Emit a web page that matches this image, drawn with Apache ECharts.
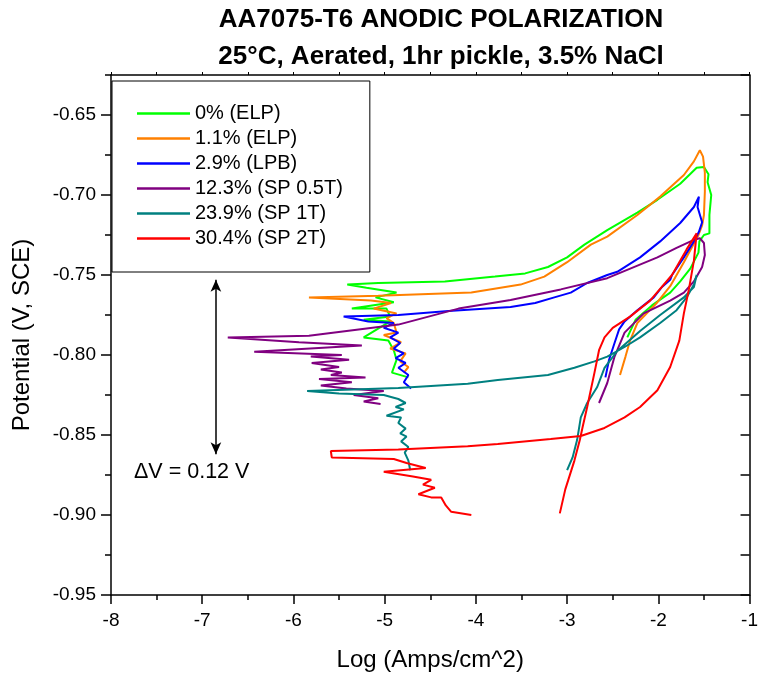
<!DOCTYPE html>
<html><head><meta charset="utf-8">
<script src="https://cdn.jsdelivr.net/npm/echarts@6/dist/echarts.min.js"></script>
<style>html,body{margin:0;padding:0;background:#fff}#c{width:761px;height:677px}</style>
</head><body><div id="c"></div>
<script>
const FONT = '"Liberation Sans", Arial, sans-serif';
const titleLines = ['AA7075-T6 ANODIC POLARIZATION', '25°C, Aerated, 1hr pickle, 3.5% NaCl'];
const xName = 'Log (Amps/cm^2)';
const yName = 'Potential (V, SCE)';
const xTicks = [-8, -7, -6, -5, -4, -3, -2, -1];
const yTicks = [-0.95, -0.90, -0.85, -0.80, -0.75, -0.70, -0.65];
const yMinorTicks = [-0.925, -0.875, -0.825, -0.775, -0.725, -0.675, -0.625];
const seriesNames = ['0% (ELP)', '1.1% (ELP)', '2.9% (LPB)', '12.3% (SP 0.5T)', '23.9% (SP 1T)', '30.4% (SP 2T)'];
const seriesColors = ['#00FF00', '#FF8000', '#0000FF', '#800080', '#008080', '#FF0000'];
const deltaLabel = '\u0394V = 0.12 V';
const arrowX = -6.85, arrowTop = -0.753, arrowBottom = -0.862;

const green = [
[-4.74,-0.814],[-4.92,-0.811],[-4.87,-0.803],[-4.90,-0.797],[-4.96,-0.791],[-5.23,-0.789],[-4.94,-0.779],[-5.23,-0.778],[-4.94,-0.776],[-4.98,-0.771],[-5.36,-0.771],[-4.90,-0.767],[-5.10,-0.764],[-4.87,-0.761],[-5.20,-0.758],[-5.41,-0.756],
[-5.07,-0.755],[-4.34,-0.754],[-3.79,-0.751],[-3.46,-0.749],[-3.21,-0.745],[-3.00,-0.739],[-2.81,-0.731],[-2.56,-0.722],[-2.23,-0.711],[-2.01,-0.703],[-1.76,-0.693],[-1.58,-0.683],[-1.50,-0.6825],[-1.45,-0.687],[-1.46,-0.692],[-1.42,-0.700],[-1.44,-0.7125],[-1.44,-0.724],[-1.50,-0.725],[-1.55,-0.729],[-1.56,-0.736],[-1.65,-0.746],[-1.76,-0.754],[-1.87,-0.761],[-2.07,-0.769],[-2.25,-0.778],[-2.34,-0.789]
];
const orange = [
[-4.79,-0.811],[-4.74,-0.8075],[-4.83,-0.804],[-4.77,-0.799],[-4.94,-0.796],[-4.82,-0.792],[-5.01,-0.7875],[-4.87,-0.786],[-4.90,-0.780],[-4.98,-0.777],[-4.87,-0.774],[-5.12,-0.771],[-4.93,-0.7675],[-5.15,-0.766],[-5.83,-0.764],
[-5.07,-0.763],[-4.05,-0.761],[-3.51,-0.756],[-3.25,-0.751],[-3.00,-0.742],[-2.74,-0.731],[-2.56,-0.726],[-2.23,-0.7125],[-1.98,-0.701],[-1.72,-0.6875],[-1.61,-0.679],[-1.545,-0.672],[-1.51,-0.676],[-1.49,-0.686],[-1.49,-0.698],[-1.50,-0.7125],[-1.52,-0.719],[-1.56,-0.725],[-1.72,-0.742],[-1.87,-0.757],[-2.01,-0.767],[-2.23,-0.780],[-2.31,-0.791],[-2.36,-0.801],[-2.42,-0.8125]
];
const blue = [
[-4.71,-0.821],[-4.79,-0.817],[-4.74,-0.8125],[-4.85,-0.808],[-4.77,-0.805],[-4.88,-0.802],[-4.79,-0.799],[-4.90,-0.796],[-4.83,-0.7925],[-4.94,-0.789],[-4.85,-0.786],[-5.01,-0.783],[-4.90,-0.780],[-5.18,-0.779],[-5.45,-0.776],
[-4.85,-0.775],[-4.30,-0.7725],[-3.62,-0.770],[-3.35,-0.7675],[-3.14,-0.764],[-2.96,-0.761],[-2.78,-0.755],[-2.56,-0.750],[-2.45,-0.748],[-2.20,-0.739],[-1.98,-0.729],[-1.76,-0.7175],[-1.61,-0.7075],[-1.555,-0.701],[-1.57,-0.7075],[-1.52,-0.717],[-1.555,-0.723],[-1.61,-0.729],[-1.72,-0.739],[-1.85,-0.750],[-1.87,-0.753],[-1.96,-0.7575],[-2.05,-0.764],[-2.23,-0.772],[-2.37,-0.779],[-2.43,-0.784],[-2.48,-0.7925],[-2.54,-0.803],[-2.58,-0.814]
];
const purple = [
[-5.045,-0.8306],[-5.23,-0.829],[-5.07,-0.827],[-5.34,-0.825],[-5.01,-0.8225],[-5.42,-0.821],[-5.70,-0.819],[-5.36,-0.817],[-5.72,-0.815],[-5.21,-0.814],[-5.59,-0.8125],[-5.47,-0.811],[-5.70,-0.809],[-5.50,-0.8075],[-5.80,-0.805],[-5.39,-0.803],[-5.81,-0.801],[-5.47,-0.800],[-6.43,-0.798],[-5.25,-0.794],[-5.94,-0.792],[-6.72,-0.789],[-5.83,-0.788],[-4.85,-0.781],[-4.19,-0.771],
[-3.62,-0.7656],[-3.07,-0.759],[-2.56,-0.752],[-2.01,-0.739],[-1.80,-0.733],[-1.61,-0.728],[-1.545,-0.727],[-1.50,-0.730],[-1.49,-0.7375],[-1.52,-0.745],[-1.61,-0.754],[-1.72,-0.761],[-1.87,-0.766],[-2.16,-0.774],[-2.37,-0.786],[-2.48,-0.801],[-2.56,-0.8175],[-2.65,-0.830]
];
const teal = [
[-4.72,-0.872],[-4.74,-0.866],[-4.78,-0.861],[-4.74,-0.8575],[-4.82,-0.854],[-4.76,-0.851],[-4.83,-0.849],[-4.77,-0.846],[-4.85,-0.8425],[-4.82,-0.839],[-4.98,-0.838],[-4.79,-0.834],[-4.88,-0.8325],[-4.77,-0.830],[-4.85,-0.8275],[-5.01,-0.825],[-5.50,-0.824],[-5.85,-0.8225],
[-4.85,-0.8206],[-4.09,-0.818],[-3.76,-0.8156],[-3.21,-0.8125],[-2.92,-0.808],[-2.70,-0.804],[-2.56,-0.801],[-2.37,-0.795],[-2.20,-0.789],[-1.98,-0.780],[-1.80,-0.772],[-1.69,-0.764],[-1.61,-0.756],[-1.58,-0.750],
[-1.61,-0.7575],[-1.72,-0.764],[-1.98,-0.775],[-2.20,-0.785],[-2.45,-0.7975],[-2.59,-0.808],[-2.67,-0.820],[-2.78,-0.830],[-2.85,-0.839],[-2.89,-0.853],[-2.94,-0.864],[-3.00,-0.872]
];
const red = [
[-4.05,-0.900],[-4.27,-0.898],[-4.33,-0.894],[-4.38,-0.889],[-4.49,-0.889],[-4.63,-0.887],[-4.45,-0.883],[-4.58,-0.881],[-4.49,-0.878],[-4.69,-0.876],[-5.01,-0.873],[-4.55,-0.8706],[-4.76,-0.8675],[-4.90,-0.865],[-5.58,-0.864],[-5.59,-0.860],[-4.85,-0.859],[-4.09,-0.857],
[-3.76,-0.8556],[-3.18,-0.8525],[-2.85,-0.8506],[-2.59,-0.8456],[-2.37,-0.839],[-2.20,-0.8325],[-2.01,-0.822],[-1.87,-0.8075],[-1.77,-0.791],[-1.72,-0.774],[-1.665,-0.759],[-1.61,-0.741],[-1.58,-0.724],
[-1.69,-0.734],[-1.85,-0.750],[-2.09,-0.766],[-2.31,-0.776],[-2.50,-0.783],[-2.59,-0.789],[-2.65,-0.797],[-2.70,-0.811],[-2.78,-0.8325],[-2.83,-0.845],[-2.86,-0.853],[-2.92,-0.866],[-3.02,-0.884],[-3.08,-0.899]
];
const seriesData = [green, orange, blue, purple, teal, red];

const chart = echarts.init(document.getElementById('c'), null, {renderer: 'canvas'});
const black = '#000';
const yMin = -0.95, yMax = -0.625;
const series = seriesData.map((d, i) => ({
  type: 'line', name: seriesNames[i], data: d, symbol: 'none', showSymbol: false,
  xAxisIndex: 0, yAxisIndex: 0, animation: false, silent: true,
  lineStyle: {width: 2, color: seriesColors[i]}, itemStyle: {color: seriesColors[i]}
}));
series[0].markLine = {
  silent: true, animation: false, symbol: ['arrow', 'arrow'], symbolSize: [8, 12],
  label: {show: false}, lineStyle: {color: black, width: 1.5, type: 'solid'},
  data: [[{coord: [arrowX, arrowTop]}, {coord: [arrowX, arrowBottom]}]]
};
chart.setOption({
  backgroundColor: '#fff',
  animation: false,
  textStyle: {fontFamily: FONT},
  grid: {left: 111, right: 8, top: 75, bottom: 82, containLabel: false},
  legend: {
    data: seriesNames, orient: 'vertical', left: 112, top: 81,
    icon: 'path://M0,0H53V2.6H0Z',
    padding: [21, 27, 22, 25], itemWidth: 53, itemHeight: 3, itemGap: 2,
    borderColor: black, borderWidth: 1, backgroundColor: '#fff',
    textStyle: {fontSize: 20, color: black, fontFamily: FONT, lineHeight: 23}
  },
  xAxis: [
    {type: 'value', position: 'bottom', min: -8, max: -1, interval: 1,
     axisLine: {show: true, onZero: false, lineStyle: {color: black, width: 1.5}},
     axisTick: {show: true, inside: false, length: 9, lineStyle: {color: black, width: 1.5}},
     minorTick: {show: true, splitNumber: 2, length: 5, lineStyle: {color: black, width: 1.5}},
     axisLabel: {color: black, fontSize: 19, margin: 16, fontFamily: FONT},
     splitLine: {show: false}, minorSplitLine: {show: false},
     name: xName, nameLocation: 'middle', nameGap: 53,
     nameTextStyle: {fontSize: 24, color: black, fontFamily: FONT}},
    {type: 'value', position: 'top', min: -8, max: -1, interval: 0.5,
     axisLine: {show: true, onZero: false, lineStyle: {color: black, width: 1.5}},
     axisTick: {show: true, inside: false, length: 3, lineStyle: {color: black, width: 1}},
     axisLabel: {show: false}, splitLine: {show: false}}
  ],
  yAxis: [
    {type: 'value', position: 'left', min: yMin, max: yMax, interval: 0.025,
     axisLine: {show: true, onZero: false, lineStyle: {color: black, width: 1.5}},
     axisTick: {show: true, inside: false, length: 10, customValues: yTicks, lineStyle: {color: black, width: 1.5}},
     axisLabel: {color: black, fontSize: 19, margin: 15, customValues: yTicks, fontFamily: FONT,
       formatter: v => v.toFixed(2)},
     splitLine: {show: false},
     name: yName, nameLocation: 'middle', nameGap: 77,
     nameTextStyle: {fontSize: 24, color: black, fontFamily: FONT}},
    {type: 'value', position: 'left', min: yMin, max: yMax, interval: 0.025,
     axisLine: {show: false},
     axisTick: {show: true, inside: false, length: 6, customValues: yMinorTicks, lineStyle: {color: black, width: 1.5}},
     axisLabel: {show: false}, splitLine: {show: false}},
    {type: 'value', position: 'right', min: yMin, max: yMax, interval: 0.025,
     axisLine: {show: true, onZero: false, lineStyle: {color: black, width: 1.5}},
     axisTick: {show: true, inside: true, length: 9, lineStyle: {color: black, width: 1.5}},
     axisLabel: {show: false}, splitLine: {show: false}}
  ],
  graphic: [
    {type: 'text', x: 441, y: 20, silent: true,
     style: {text: titleLines[0], font: 'bold 26px ' + FONT, fill: black, align: 'center', verticalAlign: 'middle'}},
    {type: 'text', x: 441, y: 57, silent: true,
     style: {text: titleLines[1], font: 'bold 26px ' + FONT, fill: black, align: 'center', verticalAlign: 'middle'}},
    {type: 'text', x: 134, y: 472, silent: true,
     style: {text: deltaLabel, font: '21.5px ' + FONT, fill: black, align: 'left', verticalAlign: 'middle'}}
  ],
  series: series
});
</script></body></html>
